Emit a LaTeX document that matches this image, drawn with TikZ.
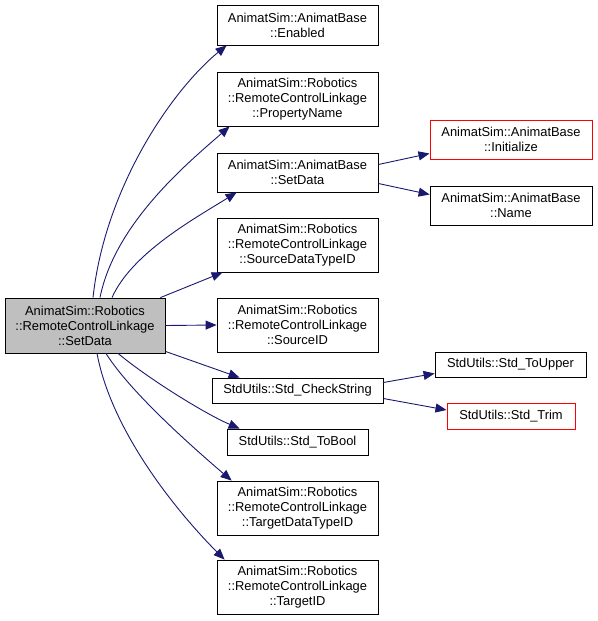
\documentclass[tikz,border=0pt]{standalone}
\usepackage{fontspec}
\setmainfont{Liberation Sans}
\usetikzlibrary{arrows.meta,calc}
\definecolor{edgeblue}{HTML}{191970}
\definecolor{maingray}{HTML}{BFBFBF}
\definecolor{boxred}{HTML}{FF0000}
\begin{document}
\begin{tikzpicture}[x=1pt,y=-1pt,
  box/.style={draw=black,line width=0.8pt,fill=white,align=center,inner sep=0pt,
    font=\fontsize{12.9}{15}\selectfont},
  redbox/.style={box,draw=boxred,line width=1pt},
  edge/.style={draw=edgeblue,line width=0.9pt,-{Triangle[length=11pt,width=9pt]}}]
\useasboundingbox (0,0) rectangle (597,621);
\node[box,fill=maingray,minimum width=160pt,minimum height=55pt] (main) at (85,325.5)
  {AnimatSim::Robotics\\::RemoteControlLinkage\\::SetData};
\node[box,minimum width=161pt,minimum height=40pt] (enabled) at (297.5,25)
  {AnimatSim::AnimatBase\\::Enabled};
\node[box,minimum width=161pt,minimum height=54pt] (propname) at (297.5,99)
  {AnimatSim::Robotics\\::RemoteControlLinkage\\::PropertyName};
\node[box,minimum width=161pt,minimum height=39pt] (setdata) at (297.5,172.5)
  {AnimatSim::AnimatBase\\::SetData};
\node[redbox,minimum width=162pt,minimum height=39pt] (init) at (511,139.5)
  {AnimatSim::AnimatBase\\::Initialize};
\node[box,minimum width=162pt,minimum height=39pt] (name) at (511,205.5)
  {AnimatSim::AnimatBase\\::Name};
\node[box,minimum width=161pt,minimum height=54pt] (srctype) at (297.5,245)
  {AnimatSim::Robotics\\::RemoteControlLinkage\\::SourceDataTypeID};
\node[box,minimum width=161pt,minimum height=54pt] (srcid) at (297.5,325)
  {AnimatSim::Robotics\\::RemoteControlLinkage\\::SourceID};
\node[box,minimum width=171pt,minimum height=25pt] (check) at (297.5,390.5)
  {StdUtils::Std\string_CheckString};
\node[box,minimum width=151pt,minimum height=25pt] (upper) at (510.5,364.5)
  {StdUtils::Std\string_ToUpper};
\node[redbox,minimum width=128pt,minimum height=26pt] (trim) at (511,416)
  {StdUtils::Std\string_Trim};
\node[box,minimum width=141pt,minimum height=26pt] (tobool) at (297.5,442)
  {StdUtils::Std\string_ToBool};
\node[box,minimum width=161pt,minimum height=54pt] (tgttype) at (297.5,508)
  {AnimatSim::Robotics\\::RemoteControlLinkage\\::TargetDataTypeID};
\node[box,minimum width=161pt,minimum height=54pt] (tgtid) at (297.5,587)
  {AnimatSim::Robotics\\::RemoteControlLinkage\\::TargetID};

\draw[edge] ([xshift=8pt]main.north) .. controls +(12,-110) and +(-55,45) .. ([xshift=10pt]enabled.south west);
\draw[edge] ([xshift=15pt]main.north) .. controls +(15,-75) and +(-40,35) .. ([xshift=13pt]propname.south west);
\draw[edge] ([xshift=27pt]main.north) .. controls +(20,-45) and +(-40,25) .. ([xshift=20pt]setdata.south west);
\draw[edge] ([xshift=-5pt]main.north east) -- ([xshift=6pt]srctype.south west);
\draw[edge] (main.east) -- (srcid.west);
\draw[edge] ([yshift=2pt]main.south east) -- ([xshift=28pt]check.north west);
\draw[edge] ([xshift=33pt]main.south) .. controls +(30,25) and +(-35,-15) .. ([xshift=13pt]tobool.north west);
\draw[edge] ([xshift=21pt]main.south) .. controls +(25,40) and +(-35,-30) .. ([xshift=15pt]tgttype.north west);
\draw[edge] ([xshift=12pt]main.south) .. controls +(15,80) and +(-45,-45) .. ([xshift=8pt]tgtid.north west);
\draw[edge] ([yshift=8pt]setdata.east) -- ([yshift=-14pt]init.west);
\draw[edge] ([yshift=-11pt]setdata.east) -- ([yshift=11pt]name.west);
\draw[edge] ([yshift=8pt]check.east) -- ([yshift=-9pt]upper.west);
\draw[edge] ([yshift=-8pt]check.east) -- ([yshift=6pt]trim.west);
\end{tikzpicture}
\end{document}
